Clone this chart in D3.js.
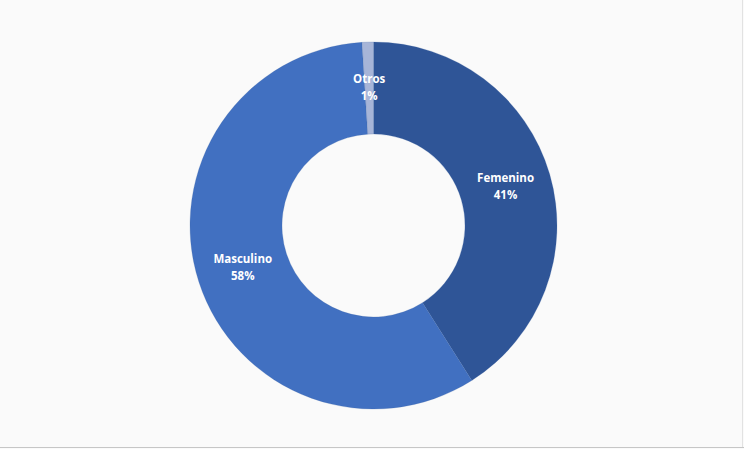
<!DOCTYPE html>
<html>
<head>
<meta charset="utf-8">
<script src="https://cdn.jsdelivr.net/npm/d3@7"></script>
<style>
  html, body { margin: 0; padding: 0; background: #fafafa; }
  svg { display: block; }
</style>
</head>
<body>
<svg id="chart" width="744" height="449"></svg>
<script>
// Gender distribution
const categories = ["Femenino", "Masculino", "Otros"];
const values = [41, 58, 1];
const colors = ["#2f5597", "#4170c1", "#a7b5d8"];

const W = 744, H = 449;
const cx = 373.5, cy = 225.5;
const outerR = 183.5, innerR = 91.5;

const svg = d3.select("#chart");

svg.append("rect").attr("x", 0).attr("y", 0).attr("width", W).attr("height", H).attr("fill", "#fafafa");
// frame lines on the right and bottom edges
svg.append("line").attr("x1", 742.5).attr("x2", 742.5).attr("y1", 0).attr("y2", 447)
  .attr("stroke", "#e2e2e2").attr("stroke-width", 1);
svg.append("line").attr("x1", 0).attr("x2", 744).attr("y1", 447.5).attr("y2", 447.5)
  .attr("stroke", "#c6c6c6").attr("stroke-width", 1.2);

const data = categories.map((c, i) => ({ name: c, value: values[i], color: colors[i] }));

const pie = d3.pie().value(d => d.value).sort(null);
const arc = d3.arc().innerRadius(innerR).outerRadius(outerR);

const g = svg.append("g").attr("transform", `translate(${cx},${cy})`);
const arcs = pie(data);

g.selectAll("path.slice")
  .data(arcs)
  .enter().append("path")
  .attr("class", "slice")
  .attr("d", arc)
  .attr("fill", d => d.data.color)
  .attr("stroke", "#3a5f9e")
  .attr("stroke-opacity", 0.35)
  .attr("stroke-width", 0.6);

const labels = g.selectAll("text.lbl")
  .data(arcs)
  .enter().append("text")
  .attr("class", "lbl")
  .attr("transform", d => `translate(${arc.centroid(d)})`)
  .attr("text-anchor", "middle")
  .attr("fill", "#ffffff")
  .style("font-family", "'Open Sans', 'DejaVu Sans', sans-serif")
  .style("font-weight", "bold")
  .style("font-size", "11.5px");

labels.append("tspan").attr("x", 0).attr("dy", "-0.45em").text(d => d.data.name);
labels.append("tspan").attr("x", 0).attr("dy", "1.5em").text(d => d.data.value + "%");
</script>
</body>
</html>
